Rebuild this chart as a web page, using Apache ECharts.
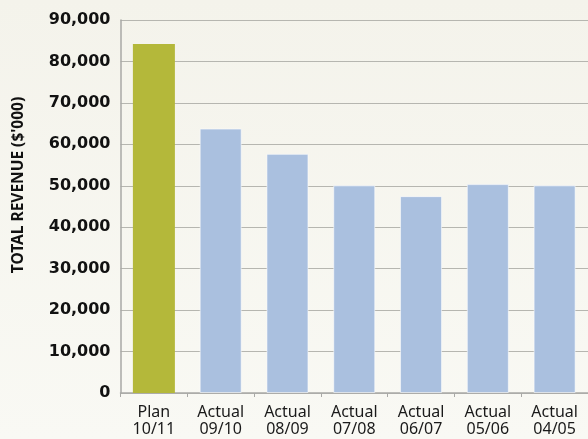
<!DOCTYPE html>
<html>
<head>
<meta charset="utf-8">
<script src="https://cdn.jsdelivr.net/npm/echarts@6/dist/echarts.min.js"></script>
<style>
  html, body { margin: 0; padding: 0; }
  #chart { width: 588px; height: 439px; }
</style>
</head>
<body>
<div id="chart"></div>
<script>
// Revenue by year: plan for 10/11 followed by actuals
const categories = ['Plan\n10/11', 'Actual\n09/10', 'Actual\n08/09', 'Actual\n07/08', 'Actual\n06/07', 'Actual\n05/06', 'Actual\n04/05'];
const revenue = [84200, 63800, 57700, 50100, 47500, 50400, 50100];
const isPlan = [true, false, false, false, false, false, false];
const yTicks = [0, 10000, 20000, 30000, 40000, 50000, 60000, 70000, 80000, 90000];
const yAxisTitle = "TOTAL REVENUE ($'000)";

const planColor = '#b4b83a';
const actualColor = '#aac0df';

const chart = echarts.init(document.getElementById('chart'), null, { renderer: 'canvas' });

const barData = revenue.map((v, i) => ({
  value: v,
  itemStyle: isPlan[i]
    ? { color: planColor }
    : { color: actualColor, borderColor: 'rgba(255,255,255,0.55)', borderWidth: 1 }
}));

chart.setOption({
  animation: false,
  backgroundColor: {
    type: 'linear', x: 0, y: 0, x2: 0, y2: 1,
    colorStops: [
      { offset: 0, color: '#f4f3eb' },
      { offset: 1, color: '#f9f9f4' }
    ]
  },
  grid: { left: 120.5, top: 20, width: 470.4, height: 373, containLabel: false },
  xAxis: {
    type: 'category',
    data: categories,
    axisLine: { lineStyle: { color: '#a9a9a6', width: 1.5 } },
    axisTick: { show: true, length: 4, lineStyle: { color: '#a9a9a6' } },
    axisLabel: {
      color: '#1a1a1a',
      fontFamily: 'Noto Sans',
      fontSize: 16,
      lineHeight: 17,
      margin: 11,
      interval: 0
    }
  },
  yAxis: {
    type: 'value',
    min: yTicks[0],
    max: yTicks[yTicks.length - 1],
    interval: yTicks[1] - yTicks[0],
    axisLine: { show: true, lineStyle: { color: '#a9a9a6', width: 1.5 } },
    axisTick: { show: false },
    splitLine: { lineStyle: { color: '#b6b6b0', width: 1 } },
    axisLabel: {
      color: '#111111',
      fontFamily: 'DejaVu Sans',
      fontWeight: 'bold',
      fontSize: 16,
      margin: 10,
      formatter: v => v.toLocaleString('en-US')
    }
  },
  graphic: [{
    type: 'text',
    x: 19,
    y: 185,
    rotation: Math.PI / 2,
    style: {
      text: yAxisTitle,
      fill: '#111111',
      font: 'bold 15.5px "Noto Sans"',
      align: 'center',
      verticalAlign: 'middle'
    }
  }],
  series: [{
    type: 'bar',
    data: barData,
    barWidth: 42
  }]
});
</script>
</body>
</html>
